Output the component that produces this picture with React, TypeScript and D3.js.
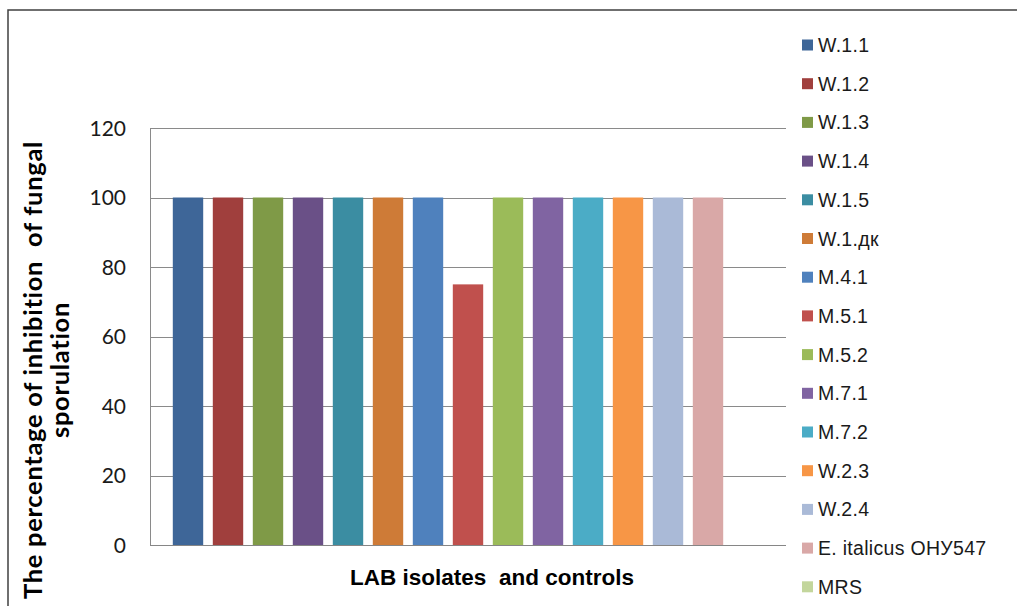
import React from "react";
import * as d3 from "d3";

const categories = [
  "W.1.1", "W.1.2", "W.1.3", "W.1.4", "W.1.5", "W.1.дк", "M.4.1", "M.5.1",
  "M.5.2", "M.7.1", "M.7.2", "W.2.3", "W.2.4", "E. italicus ОНУ547", "MRS",
];
const values = [100, 100, 100, 100, 100, 100, 100, 75, 100, 100, 100, 100, 100, 100, 0];
const colors = [
  "#3E6698", "#A03F3D", "#7F9A47", "#6A5087", "#3B8DA2", "#CE7B37", "#4F81BD",
  "#C0504D", "#9BBB59", "#8064A2", "#4BACC6", "#F79646", "#AABAD7", "#D9A8A7", "#C3D69C",
];
const yTicks = [0, 20, 40, 60, 80, 100, 120];

const W = 1017;
const H = 606;
const plot = { left: 150, right: 786, top: 128, bottom: 545 };

export default function App() {
  const x = d3
    .scaleBand<string>()
    .domain(categories)
    .range([plot.left, plot.right])
    .paddingInner(0.24)
    .paddingOuter(0.57);
  const y = d3.scaleLinear().domain([0, 120]).range([plot.bottom, plot.top]);

  const legendX = 802;
  const legendY0 = 45;
  const legendStep = 38.7;

  return (
    <svg
      width={W}
      height={H}
      style={{ position: "absolute", left: 0, top: 0, background: "#fff" }}
    >
      <rect x={0} y={0} width={W} height={H} fill="#fff" />
      {/* outer frame */}
      <rect x={8} y={10} width={W + 20} height={H + 20} fill="none" stroke="#404040" strokeWidth={1.5} />

      {/* gridlines */}
      {yTicks.map((t) => (
        <line
          key={"g" + t}
          x1={plot.left}
          x2={plot.right}
          y1={Math.round(y(t)) + 0.5}
          y2={Math.round(y(t)) + 0.5}
          stroke={t === 0 ? "#868686" : "#8a8a8a"}
          strokeWidth={1}
        />
      ))}
      <line x1={plot.left + 0.5} x2={plot.left + 0.5} y1={plot.top} y2={plot.bottom} stroke="#8a8a8a" />

      {/* tick labels */}
      {yTicks.map((t) => (
        <text
          key={"t" + t}
          x={126}
          y={y(t)}
          dy="0.36em"
          textAnchor="end"
          fontFamily="Lato, 'Open Sans', sans-serif"
          fontSize={21}
          fill="#1a1a1a"
        >
          {t}
        </text>
      ))}

      {/* bars */}
      {categories.map((c, i) =>
        values[i] > 0 ? (
          <rect
            key={"b" + c}
            x={x(c)!}
            y={y(values[i])}
            width={x.bandwidth()}
            height={y(0) - y(values[i])}
            fill={colors[i]}
          />
        ) : null
      )}

      {/* y title */}
      <g transform="translate(0,370) rotate(-90)">
        <text
          x={0}
          y={42}
          textAnchor="middle"
          fontFamily="Lato, sans-serif"
          fontWeight="bold"
          fontSize={25.5}
          letterSpacing={0.7}
          fill="#000"
          style={{ whiteSpace: "pre" }}
        >
          {"The percentage of inhibition  of fungal"}
        </text>
        <text
          x={0}
          y={69}
          textAnchor="middle"
          fontFamily="Lato, sans-serif"
          fontWeight="bold"
          fontSize={25.5}
          letterSpacing={0.7}
          fill="#000"
        >
          sporulation
        </text>
      </g>

      {/* x title */}
      <text
        x={492}
        y={585}
        textAnchor="middle"
        fontFamily="'Liberation Sans', Arial, sans-serif"
        fontWeight="bold"
        fontSize={22.5}
        fill="#000"
        style={{ whiteSpace: "pre" }}
      >
        {"LAB isolates  and controls"}
      </text>

      {/* legend */}
      {categories.map((c, i) => {
        const cy = legendY0 + i * legendStep;
        return (
          <g key={"l" + c}>
            <rect x={legendX} y={cy - 5.5} width={11} height={11} fill={colors[i]} />
            <text
              x={818}
              y={cy + 7}
              fontFamily="'Liberation Sans', Arial, sans-serif"
              fontSize={19.5}
              fill="#1a1a1a"
              letterSpacing={0.3}
            >
              {c}
            </text>
          </g>
        );
      })}
    </svg>
  );
}
